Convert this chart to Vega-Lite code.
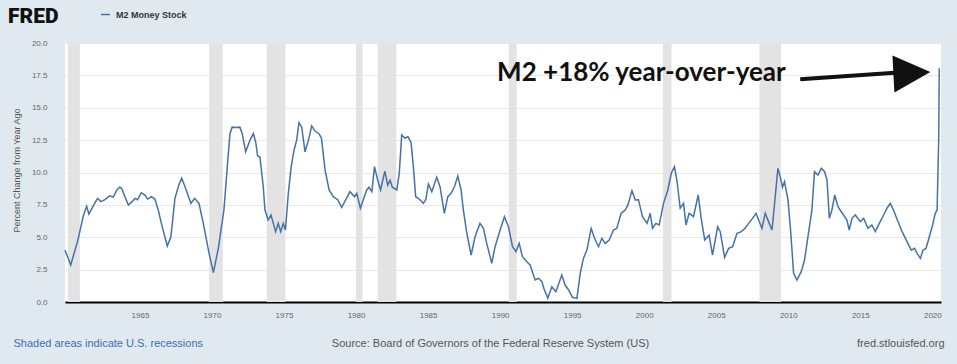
{
  "$schema": "https://vega.github.io/schema/vega-lite/v6.json",
  "width": 876,
  "height": 259,
  "autosize": {"type": "none"},
  "padding": {"left": 65, "top": 43, "right": 16, "bottom": 62},
  "background": "#e1e9f0",
  "view": {"fill": "white", "stroke": null},
  "config": {"font": "Liberation Sans"},
  "title": {"text": "FRED", "anchor": "start", "frame": "group", "dx": -57, "offset": 0, "dy": 18, "font": "Roboto", "fontWeight": 900, "fontSize": 21, "color": "#111111"},
  "datasets": {
    "m2": [
      {"year": 1959.8, "pct": 4.0}, {"year": 1960.2, "pct": 2.86}, {"year": 1960.7, "pct": 4.8}, {"year": 1961.06, "pct": 6.6},
      {"year": 1961.3, "pct": 7.4}, {"year": 1961.46, "pct": 6.8}, {"year": 1961.8, "pct": 7.5}, {"year": 1962.06, "pct": 8.0},
      {"year": 1962.3, "pct": 7.75}, {"year": 1962.57, "pct": 7.9}, {"year": 1962.9, "pct": 8.2}, {"year": 1963.15, "pct": 8.1},
      {"year": 1963.4, "pct": 8.65}, {"year": 1963.6, "pct": 8.86}, {"year": 1963.73, "pct": 8.78}, {"year": 1963.96, "pct": 8.13},
      {"year": 1964.2, "pct": 7.49}, {"year": 1964.46, "pct": 7.75}, {"year": 1964.65, "pct": 8.0}, {"year": 1964.84, "pct": 7.9},
      {"year": 1965.1, "pct": 8.44}, {"year": 1965.35, "pct": 8.26}, {"year": 1965.53, "pct": 7.95}, {"year": 1965.8, "pct": 8.13},
      {"year": 1966.04, "pct": 7.95}, {"year": 1966.27, "pct": 7.1}, {"year": 1966.55, "pct": 5.8}, {"year": 1966.9, "pct": 4.32},
      {"year": 1967.15, "pct": 5.04}, {"year": 1967.43, "pct": 8.0}, {"year": 1967.7, "pct": 9.03}, {"year": 1967.9, "pct": 9.55},
      {"year": 1968.13, "pct": 8.9}, {"year": 1968.54, "pct": 7.62}, {"year": 1968.8, "pct": 8.0}, {"year": 1969.1, "pct": 7.62},
      {"year": 1969.4, "pct": 6.07}, {"year": 1969.8, "pct": 3.76}, {"year": 1970.1, "pct": 2.27}, {"year": 1970.45, "pct": 4.2},
      {"year": 1970.83, "pct": 7.1}, {"year": 1971.1, "pct": 10.97}, {"year": 1971.25, "pct": 13.0}, {"year": 1971.4, "pct": 13.5},
      {"year": 1971.7, "pct": 13.47}, {"year": 1971.94, "pct": 13.5}, {"year": 1972.1, "pct": 13.0}, {"year": 1972.34, "pct": 11.6},
      {"year": 1972.64, "pct": 12.5}, {"year": 1972.87, "pct": 13.0}, {"year": 1973.03, "pct": 12.38}, {"year": 1973.17, "pct": 11.27},
      {"year": 1973.33, "pct": 11.2}, {"year": 1973.56, "pct": 8.9}, {"year": 1973.68, "pct": 7.1}, {"year": 1973.9, "pct": 6.33},
      {"year": 1974.1, "pct": 6.7}, {"year": 1974.26, "pct": 6.07}, {"year": 1974.42, "pct": 5.43}, {"year": 1974.6, "pct": 6.07},
      {"year": 1974.77, "pct": 5.43}, {"year": 1974.95, "pct": 6.07}, {"year": 1975.1, "pct": 5.56}, {"year": 1975.3, "pct": 8.39},
      {"year": 1975.5, "pct": 10.45}, {"year": 1975.7, "pct": 11.74}, {"year": 1975.88, "pct": 12.5}, {"year": 1976.04, "pct": 13.85},
      {"year": 1976.23, "pct": 13.5}, {"year": 1976.46, "pct": 11.6}, {"year": 1976.7, "pct": 12.5}, {"year": 1976.92, "pct": 13.6},
      {"year": 1977.15, "pct": 13.2}, {"year": 1977.43, "pct": 13.0}, {"year": 1977.6, "pct": 12.64}, {"year": 1977.85, "pct": 10.2},
      {"year": 1978.13, "pct": 8.65}, {"year": 1978.42, "pct": 8.13}, {"year": 1978.73, "pct": 7.9}, {"year": 1979.0, "pct": 7.3},
      {"year": 1979.29, "pct": 7.9}, {"year": 1979.58, "pct": 8.52}, {"year": 1979.9, "pct": 8.13}, {"year": 1980.05, "pct": 8.39},
      {"year": 1980.3, "pct": 7.24}, {"year": 1980.5, "pct": 7.9}, {"year": 1980.74, "pct": 8.65}, {"year": 1980.9, "pct": 8.86},
      {"year": 1981.1, "pct": 8.52}, {"year": 1981.28, "pct": 10.45}, {"year": 1981.5, "pct": 9.42}, {"year": 1981.7, "pct": 8.65},
      {"year": 1982.0, "pct": 10.1}, {"year": 1982.2, "pct": 9.03}, {"year": 1982.36, "pct": 9.4}, {"year": 1982.52, "pct": 8.86},
      {"year": 1982.83, "pct": 8.65}, {"year": 1983.0, "pct": 9.94}, {"year": 1983.17, "pct": 12.9}, {"year": 1983.4, "pct": 12.64},
      {"year": 1983.6, "pct": 12.77}, {"year": 1983.82, "pct": 12.3}, {"year": 1983.98, "pct": 10.45}, {"year": 1984.14, "pct": 8.13},
      {"year": 1984.44, "pct": 7.9}, {"year": 1984.67, "pct": 7.62}, {"year": 1984.84, "pct": 7.9}, {"year": 1985.02, "pct": 9.11},
      {"year": 1985.26, "pct": 8.52}, {"year": 1985.6, "pct": 9.63}, {"year": 1985.83, "pct": 8.9}, {"year": 1986.13, "pct": 6.85},
      {"year": 1986.37, "pct": 8.13}, {"year": 1986.6, "pct": 8.39}, {"year": 1986.83, "pct": 8.9}, {"year": 1987.06, "pct": 9.73},
      {"year": 1987.29, "pct": 8.65}, {"year": 1987.45, "pct": 7.1}, {"year": 1987.69, "pct": 5.3}, {"year": 1987.99, "pct": 3.63},
      {"year": 1988.26, "pct": 5.04}, {"year": 1988.6, "pct": 6.07}, {"year": 1988.84, "pct": 5.69}, {"year": 1989.07, "pct": 4.53},
      {"year": 1989.42, "pct": 2.99}, {"year": 1989.65, "pct": 4.27}, {"year": 1990.0, "pct": 5.56}, {"year": 1990.3, "pct": 6.59},
      {"year": 1990.58, "pct": 5.81}, {"year": 1990.86, "pct": 4.27}, {"year": 1991.1, "pct": 3.89}, {"year": 1991.32, "pct": 4.53},
      {"year": 1991.55, "pct": 3.5}, {"year": 1991.85, "pct": 3.11}, {"year": 1992.08, "pct": 2.86}, {"year": 1992.43, "pct": 1.7},
      {"year": 1992.66, "pct": 1.83}, {"year": 1992.9, "pct": 1.57}, {"year": 1993.05, "pct": 1.0}, {"year": 1993.31, "pct": 0.3},
      {"year": 1993.59, "pct": 1.18}, {"year": 1993.87, "pct": 0.8}, {"year": 1994.28, "pct": 2.08}, {"year": 1994.51, "pct": 1.31},
      {"year": 1994.75, "pct": 0.93}, {"year": 1995.02, "pct": 0.36}, {"year": 1995.33, "pct": 0.28}, {"year": 1995.56, "pct": 2.21},
      {"year": 1995.78, "pct": 3.37}, {"year": 1996.02, "pct": 4.0}, {"year": 1996.32, "pct": 5.69}, {"year": 1996.55, "pct": 4.92},
      {"year": 1996.83, "pct": 4.27}, {"year": 1997.06, "pct": 4.92}, {"year": 1997.29, "pct": 4.53}, {"year": 1997.57, "pct": 4.79},
      {"year": 1997.87, "pct": 5.56}, {"year": 1998.1, "pct": 5.69}, {"year": 1998.4, "pct": 6.85}, {"year": 1998.68, "pct": 7.1},
      {"year": 1998.87, "pct": 7.5}, {"year": 1999.15, "pct": 8.6}, {"year": 1999.38, "pct": 7.88}, {"year": 1999.6, "pct": 7.9},
      {"year": 1999.88, "pct": 6.59}, {"year": 2000.2, "pct": 6.07}, {"year": 2000.42, "pct": 6.85}, {"year": 2000.58, "pct": 5.69},
      {"year": 2000.81, "pct": 6.07}, {"year": 2001.04, "pct": 5.95}, {"year": 2001.34, "pct": 7.62}, {"year": 2001.64, "pct": 8.65},
      {"year": 2001.88, "pct": 9.94}, {"year": 2002.1, "pct": 10.45}, {"year": 2002.27, "pct": 9.4}, {"year": 2002.5, "pct": 7.24},
      {"year": 2002.73, "pct": 7.62}, {"year": 2002.9, "pct": 5.95}, {"year": 2003.12, "pct": 6.85}, {"year": 2003.42, "pct": 6.59},
      {"year": 2003.75, "pct": 8.26}, {"year": 2003.95, "pct": 6.5}, {"year": 2004.2, "pct": 4.79}, {"year": 2004.5, "pct": 5.17},
      {"year": 2004.74, "pct": 3.63}, {"year": 2005.1, "pct": 5.81}, {"year": 2005.28, "pct": 5.43}, {"year": 2005.58, "pct": 3.45},
      {"year": 2005.86, "pct": 4.14}, {"year": 2006.14, "pct": 4.27}, {"year": 2006.44, "pct": 5.3}, {"year": 2006.74, "pct": 5.43},
      {"year": 2007.0, "pct": 5.69}, {"year": 2007.25, "pct": 6.07}, {"year": 2007.52, "pct": 6.46}, {"year": 2007.76, "pct": 6.85},
      {"year": 2007.94, "pct": 6.33}, {"year": 2008.17, "pct": 5.69}, {"year": 2008.4, "pct": 6.85}, {"year": 2008.68, "pct": 6.07},
      {"year": 2008.87, "pct": 5.56}, {"year": 2009.05, "pct": 7.62}, {"year": 2009.28, "pct": 10.32}, {"year": 2009.44, "pct": 9.68},
      {"year": 2009.6, "pct": 8.86}, {"year": 2009.74, "pct": 9.3}, {"year": 2009.98, "pct": 7.88}, {"year": 2010.14, "pct": 5.81},
      {"year": 2010.26, "pct": 4.0}, {"year": 2010.37, "pct": 2.21}, {"year": 2010.6, "pct": 1.7}, {"year": 2010.9, "pct": 2.34},
      {"year": 2011.13, "pct": 3.24}, {"year": 2011.4, "pct": 5.3}, {"year": 2011.64, "pct": 7.1}, {"year": 2011.82, "pct": 10.06},
      {"year": 2012.06, "pct": 9.8}, {"year": 2012.29, "pct": 10.32}, {"year": 2012.52, "pct": 10.06}, {"year": 2012.69, "pct": 9.42},
      {"year": 2012.85, "pct": 6.46}, {"year": 2013.03, "pct": 7.1}, {"year": 2013.22, "pct": 8.26}, {"year": 2013.45, "pct": 7.36},
      {"year": 2013.68, "pct": 6.97}, {"year": 2013.91, "pct": 6.59}, {"year": 2014.07, "pct": 6.33}, {"year": 2014.23, "pct": 5.56},
      {"year": 2014.42, "pct": 6.46}, {"year": 2014.65, "pct": 6.72}, {"year": 2015.0, "pct": 6.2}, {"year": 2015.23, "pct": 6.46},
      {"year": 2015.53, "pct": 5.69}, {"year": 2015.8, "pct": 5.95}, {"year": 2016.04, "pct": 5.43}, {"year": 2016.32, "pct": 6.07},
      {"year": 2016.62, "pct": 6.72}, {"year": 2016.85, "pct": 7.24}, {"year": 2017.08, "pct": 7.62}, {"year": 2017.3, "pct": 7.1},
      {"year": 2017.62, "pct": 6.2}, {"year": 2017.9, "pct": 5.43}, {"year": 2018.24, "pct": 4.66}, {"year": 2018.54, "pct": 4.0},
      {"year": 2018.77, "pct": 4.14}, {"year": 2018.94, "pct": 3.76}, {"year": 2019.17, "pct": 3.37}, {"year": 2019.35, "pct": 4.0},
      {"year": 2019.56, "pct": 4.14}, {"year": 2019.79, "pct": 5.04}, {"year": 2020.02, "pct": 5.95}, {"year": 2020.2, "pct": 6.85},
      {"year": 2020.33, "pct": 7.1}, {"year": 2020.44, "pct": 12.5}, {"year": 2020.48, "pct": 18.05}
    ],
    "rec": [
      {"start": 1960.0, "end": 1960.83}, {"start": 1969.8, "end": 1970.75}, {"start": 1973.8, "end": 1975.1},
      {"start": 1980.0, "end": 1980.45}, {"start": 1981.5, "end": 1982.8}, {"start": 1990.6, "end": 1991.15},
      {"start": 2001.3, "end": 2001.9}, {"start": 2008.0, "end": 2009.5}
    ],
    "note": [{"year": 1989.79, "pct": 17.68, "label": "M2 +18% year-over-year"}],
    "arrow": [{"x1": 2010.83, "y1": 17.2, "x2": 2017.9, "y2": 17.75}],
    "head": [{"year": 2018.58, "pct": 17.68}]
  },
  "layer": [
    {
      "data": {"name": "rec"},
      "mark": {"type": "rect", "color": "#e3e3e3"},
      "encoding": {
        "x": {"field": "start", "type": "quantitative",
              "scale": {"domain": [1959.8, 2020.6], "nice": false, "zero": false},
              "axis": {"orient": "bottom", "labels": false, "ticks": false, "domain": false, "grid": false,
                       "title": "Shaded areas indicate U.S. recessions", "titleX": -52, "titleY": 41,
                       "titleAlign": "left", "titleAnchor": null, "titleBaseline": "middle",
                       "titleFontSize": 11, "titleFontWeight": "normal", "titleColor": "#3a6fb0"}},
        "x2": {"field": "end"}
      }
    },
    {
      "data": {"name": "m2"},
      "mark": {"type": "line", "strokeWidth": 1.5},
      "encoding": {
        "x": {"field": "year", "type": "quantitative",
              "axis": {"orient": "bottom", "values": [1965, 1970, 1975, 1980, 1985, 1990, 1995, 2000, 2005, 2010, 2015, 2020],
                       "format": "d", "ticks": false, "grid": false, "domainColor": "#000000", "domainWidth": 2,
                       "labelFontSize": 8, "labelColor": "#666666", "labelPadding": 9,
                       "title": "Source: Board of Governors of the Federal Reserve System (US)",
                       "titleX": 425, "titleY": 41, "titleAlign": "center", "titleBaseline": "middle",
                       "titleFontSize": 11, "titleFontWeight": "normal", "titleColor": "#555555"}},
        "y": {"field": "pct", "type": "quantitative",
              "scale": {"domain": [0, 20], "nice": false},
              "axis": {"orient": "left", "values": [0, 2.5, 5, 7.5, 10, 12.5, 15, 17.5, 20], "format": ".1f",
                       "ticks": false, "domain": false, "gridColor": "#e8e8e8", "gridWidth": 1,
                       "labelFontSize": 8, "labelColor": "#666666", "labelPadding": 18,
                       "title": "Percent Change from Year Ago", "titleX": -49, "titleY": 127,
                       "titleAlign": "center", "titleBaseline": "middle", "titleFontSize": 9,
                       "titleFontWeight": "normal", "titleColor": "#555555"}},
        "color": {"datum": "M2 Money Stock", "type": "nominal",
                  "scale": {"range": ["#4572a7"]},
                  "legend": {"orient": "none", "legendX": 35, "legendY": -34, "title": null,
                             "symbolType": "stroke", "symbolSize": 80, "symbolStrokeWidth": 1.5,
                             "labelFontSize": 9, "labelFontWeight": "bold", "labelColor": "#333333", "labelOffset": 5}}
      }
    },
    {
      "data": {"name": "note"},
      "mark": {"type": "text", "align": "left", "baseline": "middle", "font": "Lato", "fontWeight": "bold", "fontSize": 26, "color": "#111111"},
      "encoding": {
        "x": {"field": "year", "type": "quantitative", "axis": null},
        "y": {"field": "pct", "type": "quantitative", "axis": null},
        "text": {"field": "label"}
      }
    },
    {
      "data": {"name": "arrow"},
      "mark": {"type": "rule", "strokeWidth": 4, "color": "#111111"},
      "encoding": {
        "x": {"field": "x1", "type": "quantitative", "axis": null},
        "x2": {"field": "x2"},
        "y": {"field": "y1", "type": "quantitative",
              "axis": {"orient": "right", "labels": false, "ticks": false, "domain": false, "grid": false,
                       "title": "fred.stlouisfed.org", "titleAngle": 0, "titleX": 3, "titleY": 300,
                       "titleAlign": "right", "titleBaseline": "middle", "titleFontSize": 11,
                       "titleFontWeight": "normal", "titleColor": "#555555"}},
        "y2": {"field": "y2"}
      }
    },
    {
      "data": {"name": "head"},
      "mark": {"type": "point", "shape": "M -1 -1 L 1 0 L -1 1 Z", "filled": true, "size": 1369, "angle": -3, "color": "#111111", "opacity": 1},
      "encoding": {
        "x": {"field": "year", "type": "quantitative", "axis": null},
        "y": {"field": "pct", "type": "quantitative", "axis": null}
      }
    }
  ],
  "resolve": {"axis": {"x": "independent", "y": "independent"}}
}
